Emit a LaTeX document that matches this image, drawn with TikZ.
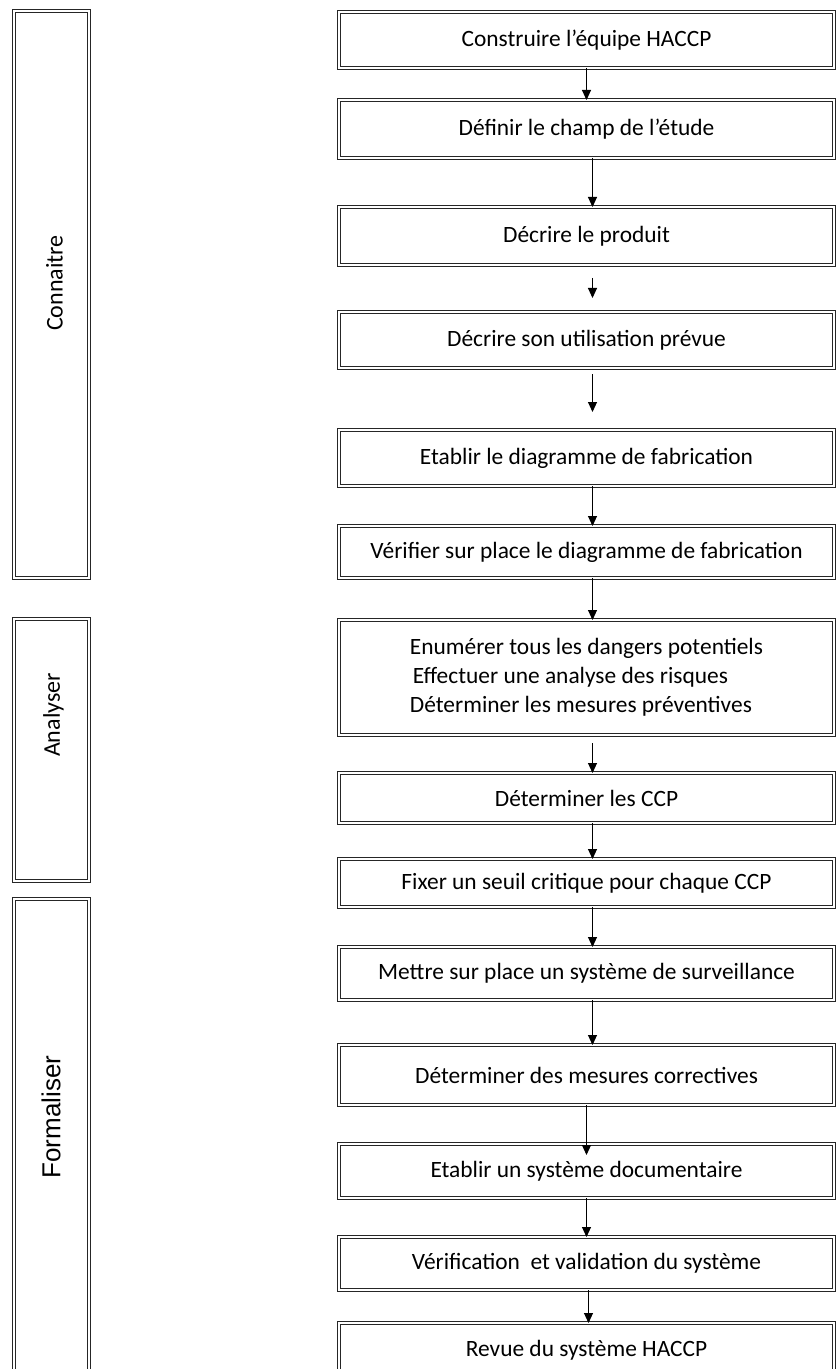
\documentclass[tikz,border=0pt]{standalone}
\usepackage{fontspec}
\setmainfont{Carlito}
\newfontfamily\arialfont{Liberation Sans}
\usepackage{tikz}
\usetikzlibrary{arrows.meta, positioning}

\begin{document}
\begin{tikzpicture}[
        box/.style = {
            rectangle,
            draw=black!85,
            line width=0.6pt,
            double=white,
            double distance=0.9pt,
            outer sep=0pt,
            minimum width=247.5pt,
            align=center,
            font=\fontsize{11.7}{14.5}\selectfont
        },
        phase/.style = {
            rectangle,
            draw=black!85,
            line width=0.6pt,
            double=white,
            double distance=0.9pt,
            outer sep=0pt,
            minimum width=37.5pt
        },
        phasetext/.style = {
            rotate=90,
            font=\fontsize{12}{14}\selectfont
        },
        arrow/.style = {
            -{Triangle[length=5pt,width=4.5pt]},
            line width=0.5pt
        }
    ]

    \clip (0,0) rectangle (418pt,-684.5pt);

    % Steps
    \node[box, minimum height=28pt] (b1) at (293.25pt,-20pt) {Construire l’équipe HACCP};
    \node[box, minimum height=29pt, below=16pt of b1] (b2) {Définir le champ de l’étude};
    \node[box, minimum height=29pt, below=24.5pt of b2] (b3) {Décrire le produit};
    \node[box, minimum height=28pt, below=23.5pt of b3] (b4) {Décrire son utilisation prévue};
    \node[box, minimum height=28pt, below=31pt of b4] (b5) {Etablir le diagramme de fabrication};
    \node[box, minimum height=26pt, below=20pt of b5] (b6) {Vérifier sur place le diagramme de fabrication};
    \node[box, minimum height=57.5pt, below=21pt of b6, align=left] (b7) {Enumérer tous les dangers potentiels\\%
        \hspace*{1.5pt}Effectuer une analyse des risques\\%
        Déterminer les mesures préventives};
    \node[box, minimum height=25pt, below=19pt of b7] (b8) {Déterminer les CCP};
    \node[box, minimum height=24pt, below=18pt of b8] (b9) {Fixer un seuil critique pour chaque CCP};
    \node[box, minimum height=26.5pt, below=20pt of b9] (b10) {Mettre sur place un système de surveillance};
    \node[box, minimum height=30pt, below=22.5pt of b10] (b11) {Déterminer des mesures correctives};
    \node[box, minimum height=27pt, below=19.5pt of b11] (b12) {Etablir un système documentaire};
    \node[box, minimum height=26.5pt, below=19.5pt of b12] (b13) {Vérification\ \ et validation du système};
    \node[box, minimum height=27pt, below=16.5pt of b13] (b14) {Revue du système HACCP};

    % Arrows
    \draw[arrow] (b1) -- (b2);
    \draw[arrow] ([xshift=3pt]b2.south) -- ([xshift=3pt]b3.north);
    \draw[arrow, shorten <=6.5pt, shorten >=7pt] ([xshift=3pt]b3.south) -- ([xshift=3pt]b4.north);
    \draw[arrow, shorten <=3pt, shorten >=9pt] ([xshift=3pt]b4.south) -- ([xshift=3pt]b5.north);
    \draw[arrow] ([xshift=3pt]b5.south) -- ([xshift=3pt]b6.north);
    \draw[arrow] ([xshift=3pt]b6.south) -- ([xshift=3pt]b7.north);
    \draw[arrow, shorten <=4pt] ([xshift=3pt]b7.south) -- ([xshift=3pt]b8.north);
    \draw[arrow] ([xshift=3pt]b8.south) -- ([xshift=3pt]b9.north);
    \draw[arrow] ([xshift=3pt]b9.south) -- ([xshift=3pt]b10.north);
    \draw[arrow] ([xshift=3pt]b10.south) -- ([xshift=3pt]b11.north);
    \draw[arrow, shorten >=-5.5pt] (b11) -- (b12);
    \draw[arrow] (b12) -- (b13);
    \draw[arrow] ([xshift=1pt]b13.south) -- ([xshift=1pt]b14.north);

    % Phases
    \node[phase, minimum height=283.5pt] (connaitre) at (25.75pt,-147.25pt) {};
    \node[phase, minimum height=131pt, below=20.5pt of connaitre] (analyser) {};
    \node[phase, minimum height=260pt, below=9pt of analyser] (formaliser) {};

    \node[phasetext] (t1) at ([xshift=1.5pt, yshift=5.75pt]connaitre.center) {Connaitre};
    \node[phasetext] (t2) at ([xshift=1pt, yshift=17.5pt]analyser.center) {Analyser};
    \node[phasetext, font=\arialfont\fontsize{13}{15}\selectfont]
        (t3) at (25.5pt,-558.5pt) {Formaliser};

\end{tikzpicture}
\end{document}
